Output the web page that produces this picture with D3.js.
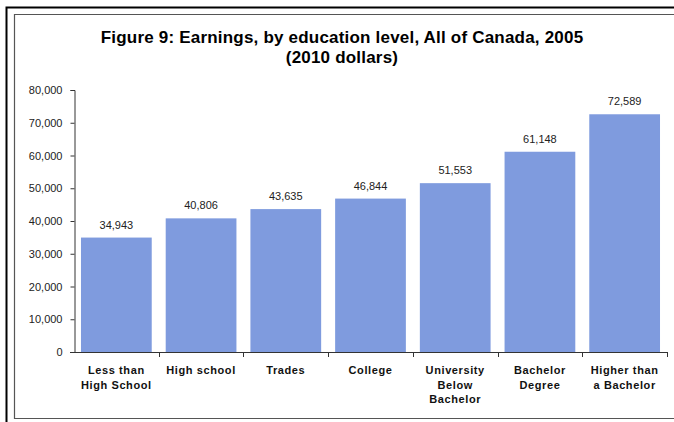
<!DOCTYPE html>
<html>
<head>
<meta charset="utf-8">
<script src="https://cdn.jsdelivr.net/npm/d3@7"></script>
<style>
  html, body { margin: 0; padding: 0; background: #fff; }
  svg { display: block; font-family: "Liberation Sans", Arial, sans-serif; }
</style>
</head>
<body>
<svg id="chart" width="674" height="422"></svg>
<script>
// Education levels (each label split into display lines)
const categories = [
  ["Less than", "High School"],
  ["High school"],
  ["Trades"],
  ["College"],
  ["University", "Below", "Bachelor"],
  ["Bachelor", "Degree"],
  ["Higher than", "a Bachelor"]
];
// Earnings in 2010 dollars
const earnings = [34943, 40806, 43635, 46844, 51553, 61148, 72589];
const yTicks = [0, 10000, 20000, 30000, 40000, 50000, 60000, 70000, 80000];
const titleLines = ["Figure 9: Earnings, by education level, All of Canada, 2005", "(2010 dollars)"];

const svg = d3.select("#chart");
const W = 674, H = 422;

// Frame: heavy outer rule and thin inner rule
svg.append("path")
  .attr("d", `M6.5,${H} V7.5 H${W}`)
  .attr("fill", "none").attr("stroke", "#000").attr("stroke-width", 2);
svg.append("path")
  .attr("d", `M${W},418.5 H14.5 V14.5 H${W}`)
  .attr("fill", "none").attr("stroke", "#555").attr("stroke-width", 1.2);

// Title
svg.append("g").selectAll("text").data(titleLines).join("text")
  .attr("x", 342).attr("y", (d, i) => 43 + i * 20)
  .attr("text-anchor", "middle")
  .attr("font-size", 17).attr("font-weight", "bold").attr("fill", "#000")
  .attr("letter-spacing", 0.2)
  .text(d => d);

const plot = { left: 74, right: 667, top: 90, bottom: 352 };

const x = d3.scaleBand()
  .domain(d3.range(categories.length))
  .range([plot.left, plot.right])
  .paddingInner(0.165).paddingOuter(0.0825);

const y = d3.scaleLinear().domain([0, 80000]).range([plot.bottom, plot.top]);

// Bars
svg.append("g").selectAll("rect").data(earnings).join("rect")
  .attr("x", (d, i) => x(i))
  .attr("y", d => y(d))
  .attr("width", x.bandwidth())
  .attr("height", d => y(0) - y(d))
  .attr("fill", "#7f9bde");

// Value labels
svg.append("g").selectAll("text").data(earnings).join("text")
  .attr("x", (d, i) => x(i) + x.bandwidth() / 2)
  .attr("y", d => y(d) - 9)
  .attr("text-anchor", "middle")
  .attr("font-size", 11).attr("fill", "#222")
  .text(d => d3.format(",")(d));

// Y axis
const yAxis = svg.append("g")
  .attr("transform", `translate(${plot.left + 0.5},0)`)
  .call(d3.axisLeft(y).tickValues(yTicks).tickFormat(d3.format(",")).tickSize(4).tickPadding(8));
yAxis.select(".domain").attr("stroke", "#333");
yAxis.selectAll(".tick line").attr("stroke", "#333");
yAxis.selectAll(".tick text")
  .attr("font-size", 11).attr("fill", "#222")
  .attr("font-family", "'Liberation Sans', Arial, sans-serif");

// X axis baseline with ticks between categories
const step = x.step();
const xg = svg.append("g");
xg.append("line")
  .attr("x1", plot.left - 4).attr("x2", plot.right)
  .attr("y1", plot.bottom + 0.5).attr("y2", plot.bottom + 0.5)
  .attr("stroke", "#333");
xg.selectAll("line.tk").data(d3.range(1, categories.length + 1)).join("line")
  .attr("class", "tk")
  .attr("x1", i => Math.round(x(i - 1) - x.step() * x.paddingInner() / 2 + step) + 0.5)
  .attr("x2", i => Math.round(x(i - 1) - x.step() * x.paddingInner() / 2 + step) + 0.5)
  .attr("y1", plot.bottom).attr("y2", plot.bottom + 5)
  .attr("stroke", "#333");

// Category labels
const cat = svg.append("g").selectAll("text").data(categories).join("text")
  .attr("x", (d, i) => x(i) + x.bandwidth() / 2)
  .attr("y", 374)
  .attr("text-anchor", "middle")
  .attr("font-size", 11).attr("font-weight", "bold").attr("fill", "#111")
  .attr("letter-spacing", 0.6);
cat.selectAll("tspan").data(d => d).join("tspan")
  .attr("x", function () { return d3.select(this.parentNode).attr("x"); })
  .attr("dy", (d, i) => i === 0 ? 0 : 14.5)
  .text(d => d);
</script>
</body>
</html>
